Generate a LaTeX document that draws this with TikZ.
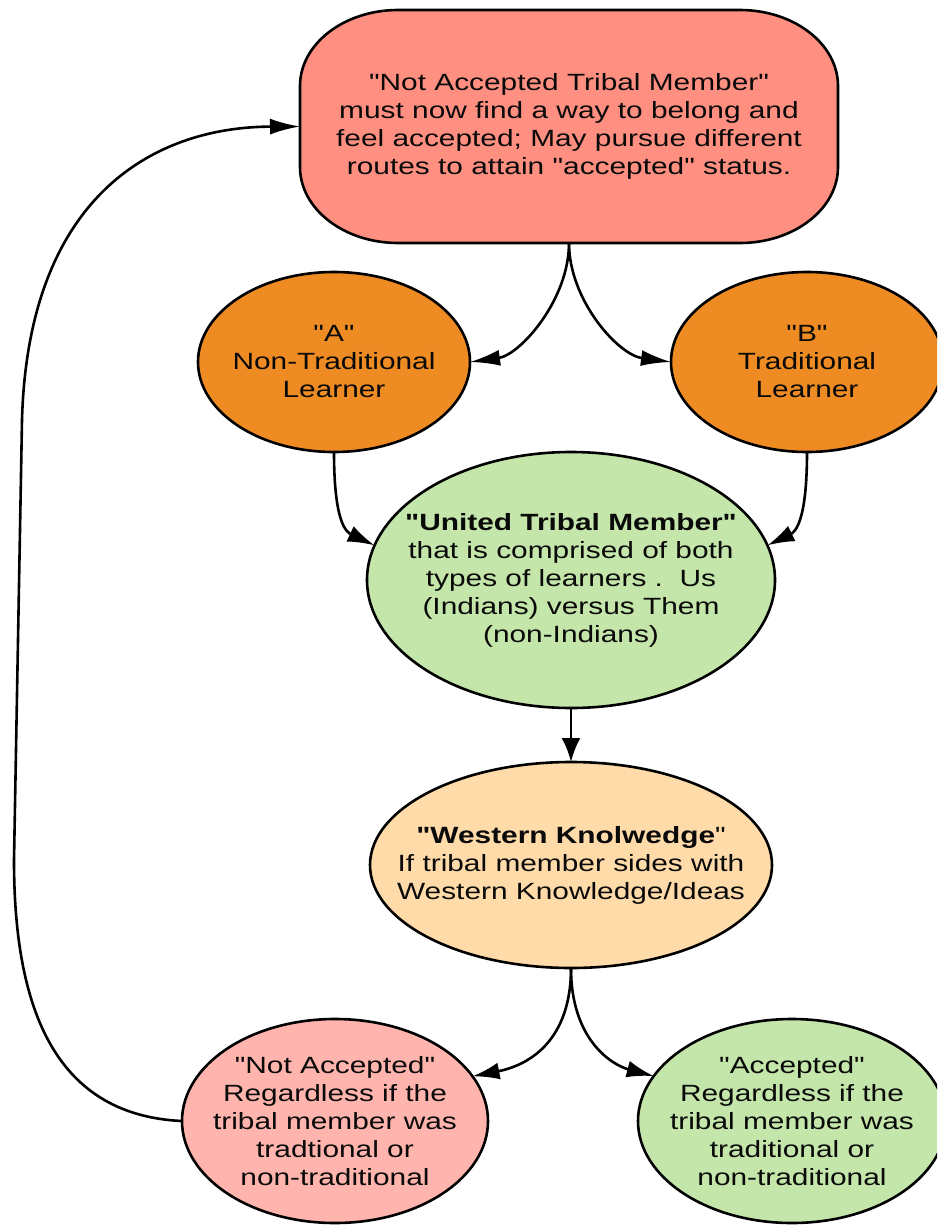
\documentclass[tikz,border=0pt]{standalone}
\usepackage{fontspec}
% plain family: no TeX ligature mapping, so " stays a straight quote
\newfontfamily\diagfont{Liberation Sans}[FakeStretch=1.27]
\usetikzlibrary{shapes.geometric,arrows.meta}
\definecolor{topfill}{HTML}{FF8F80}
\definecolor{learnfill}{HTML}{EE8C23}
\definecolor{greenfill}{HTML}{C5E6AA}
\definecolor{westfill}{HTML}{FFDBA9}
\definecolor{rejectfill}{HTML}{FFB5AD}
\definecolor{ink}{HTML}{0A0A0A}
\begin{document}
\begin{tikzpicture}[x=1pt,y=-1pt,
  blob/.style={ellipse,draw=black,line width=2.6pt,inner sep=0pt,outer sep=0pt},
  txt/.style={align=center,text=ink,inner sep=0pt,font=\diagfont\fontsize{23.5}{28}\selectfont},
  link/.style={line width=2.6pt,draw=black},
  tipH/.style={-{Latex[length=30pt,width=16pt]}},
  tipD/.style={-{Latex[length=27pt,width=17pt]}},
  tipV/.style={-{Latex[length=24pt,width=19pt]}}]
\useasboundingbox (0,0) rectangle (937,1226);
\clip (0,0) rectangle (937,1226);

% starting state: the rounded banner at the top
\node[rectangle,draw=none,inner sep=0pt,outer sep=0pt,minimum width=538pt,minimum height=233pt] (top) at (569,126.5) {};
\draw[fill=topfill,line width=2.6pt]
  (398,10) -- (740,10) .. controls (794,10) and (838,44) .. (838,86)
  -- (838,167) .. controls (838,209) and (794,243) .. (740,243)
  -- (398,243) .. controls (344,243) and (300,209) .. (300,167)
  -- (300,86) .. controls (300,44) and (344,10) .. (398,10) -- cycle;
\node[txt] (topT) at (top) {"Not Accepted Tribal Member"\\must now find a way to belong and\\feel accepted; May pursue different\\routes to attain "accepted" status.};

% the two kinds of learners
\node[blob,fill=learnfill,minimum width=272pt,minimum height=180pt] (A) at (334,362) {};
\node[txt] (AT) at (A) {"A"\\Non-Traditional\\Learner};
\node[blob,fill=learnfill,minimum width=272pt,minimum height=180pt] (B) at (807,362) {};
\node[txt] (BT) at (B) {"B"\\Traditional\\Learner};

% united member
\node[blob,fill=greenfill,minimum width=408pt,minimum height=256pt] (U) at (571,580) {};
\node[txt] (UT) at (U) {\textbf{"United Tribal Member"}\\that is comprised of both\\types of learners .~~Us\\(Indians) versus Them\\(non-Indians)};

% western knowledge
\node[blob,fill=westfill,minimum width=402pt,minimum height=206pt] (W) at (571,865) {};
\node[txt] (WT) at (W) {\textbf{"Western Knolwedge}"\\If tribal member sides with\\Western Knowledge/Ideas};

% outcomes
\node[blob,fill=rejectfill,minimum width=306pt,minimum height=204pt] (NA) at (335,1121) {};
\node[txt] (NAT) at (NA) {"Not Accepted"\\Regardless if the\\tribal member was\\tradtional or\\non-traditional};
\node[blob,fill=greenfill,minimum width=308pt,minimum height=204pt] (AC) at (792,1121) {};
\node[txt] (ACT) at (AC) {"Accepted"\\Regardless if the\\tribal member was\\traditional or\\non-traditional};

% connectors
\draw[link,tipH] (top.south) .. controls (569,300) and (520,355) .. (A.east);
\draw[link,tipH] (top.south) .. controls (569,300) and (618,355) .. (B.west);
\draw[link,tipD] (A.south) .. controls (334,522) and (346,532) .. (U.170);
\draw[link,tipD] (B.south) .. controls (807,522) and (795,532) .. (U.10);
\draw[link,tipV] (U.south) -- (W.north);
\draw[link,tipD] (W.south) .. controls (571,1040) and (530,1065) .. (NA.18);
\draw[link,tipD] (W.south) .. controls (571,1040) and (612,1065) .. (AC.162);
\coordinate (loopA) at (14,860);
\coordinate (loopB) at (22,420);
\draw[link,tipH] (NA.west) .. controls (50,1115) and (14,1000) .. (loopA)
  -- (loopB) .. controls (28,200) and (150,127) .. (top.west);
\end{tikzpicture}
\end{document}
